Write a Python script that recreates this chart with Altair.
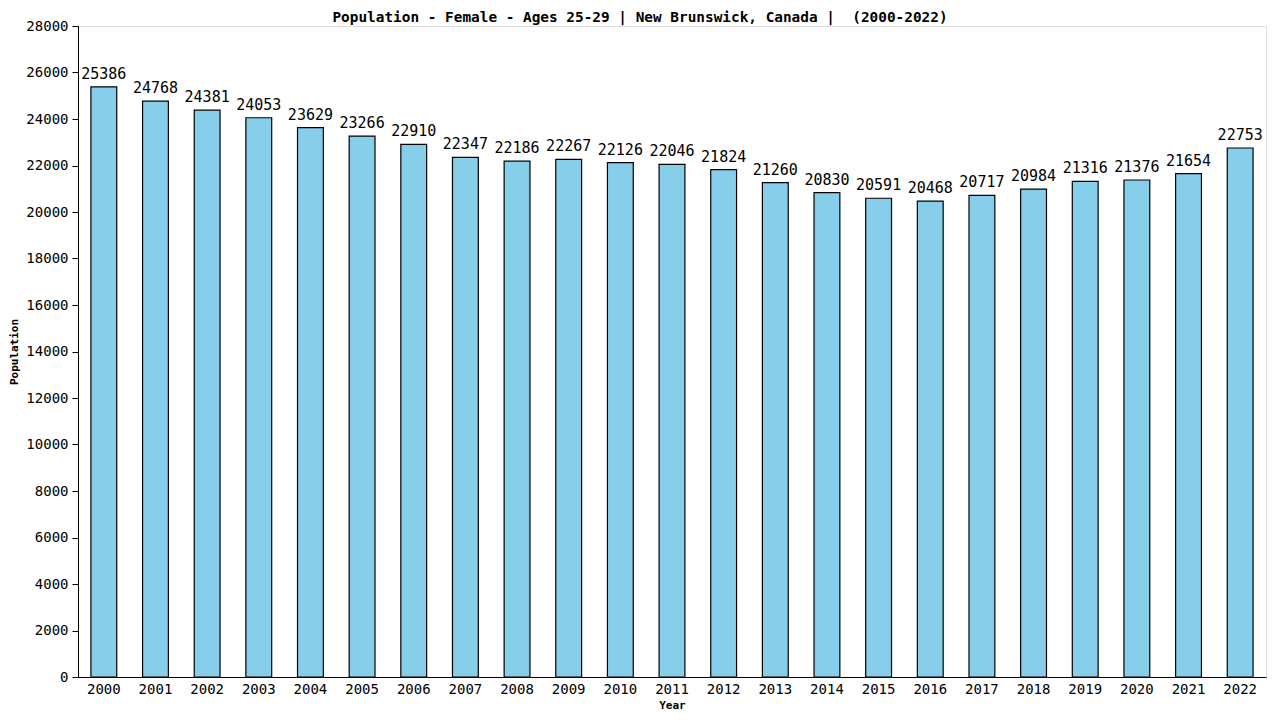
import altair as alt
import pandas as pd

years = [str(y) for y in range(2000, 2023)]
values = [25386, 24768, 24381, 24053, 23629, 23266, 22910, 22347, 22186, 22267,
          22126, 22046, 21824, 21260, 20830, 20591, 20468, 20717, 20984, 21316,
          21376, 21654, 22753]

df = pd.DataFrame({"Year": years, "Population": values})
FONT = "DejaVu Sans Mono"

base = alt.Chart(df).encode(
    x=alt.X("Year:N", title="Year",
            scale=alt.Scale(paddingInner=0.5, paddingOuter=0.25),
            axis=alt.Axis(labelAngle=0, ticks=False, domainColor="black",
                          labelColor="black", labelFont=FONT, labelFontSize=14,
                          labelPadding=5, titleFont=FONT, titleFontSize=11,
                          titleFontWeight="bold", titlePadding=3)),
    y=alt.Y("Population:Q", title="Population",
            scale=alt.Scale(domain=[0, 28000], nice=False),
            axis=alt.Axis(values=list(range(0, 28001, 2000)), format="d", grid=False,
                          domainColor="black", tickColor="black", tickSize=6,
                          labelColor="black", labelFont=FONT, labelFontSize=14,
                          labelPadding=4, titleFont=FONT, titleFontSize=11,
                          titleFontWeight="bold", titlePadding=6)),
)

bars = base.mark_bar(color="#87CEEB", stroke="black", strokeWidth=1.2)
labels = base.mark_text(baseline="alphabetic", dy=-8, font=FONT, fontSize=15,
                        color="black").encode(text="Population:Q")

chart = (bars + labels).properties(
    width=1188, height=651,
    title=alt.TitleParams("Population - Female - Ages 25-29 | New Brunswick, Canada |\u00a0 (2000-2022)",
                          font=FONT, fontSize=14.4, fontWeight="bold", color="black",
                          anchor="middle", offset=-6, dx=-32),
    autosize=alt.AutoSizeParams(type="none"),
    padding={"left": 70, "top": 18, "right": 6, "bottom": 35},
).configure_view(stroke=None).configure(background="white")

chart.save("out.html", embed_options={"renderer": "svg", "actions": False})
